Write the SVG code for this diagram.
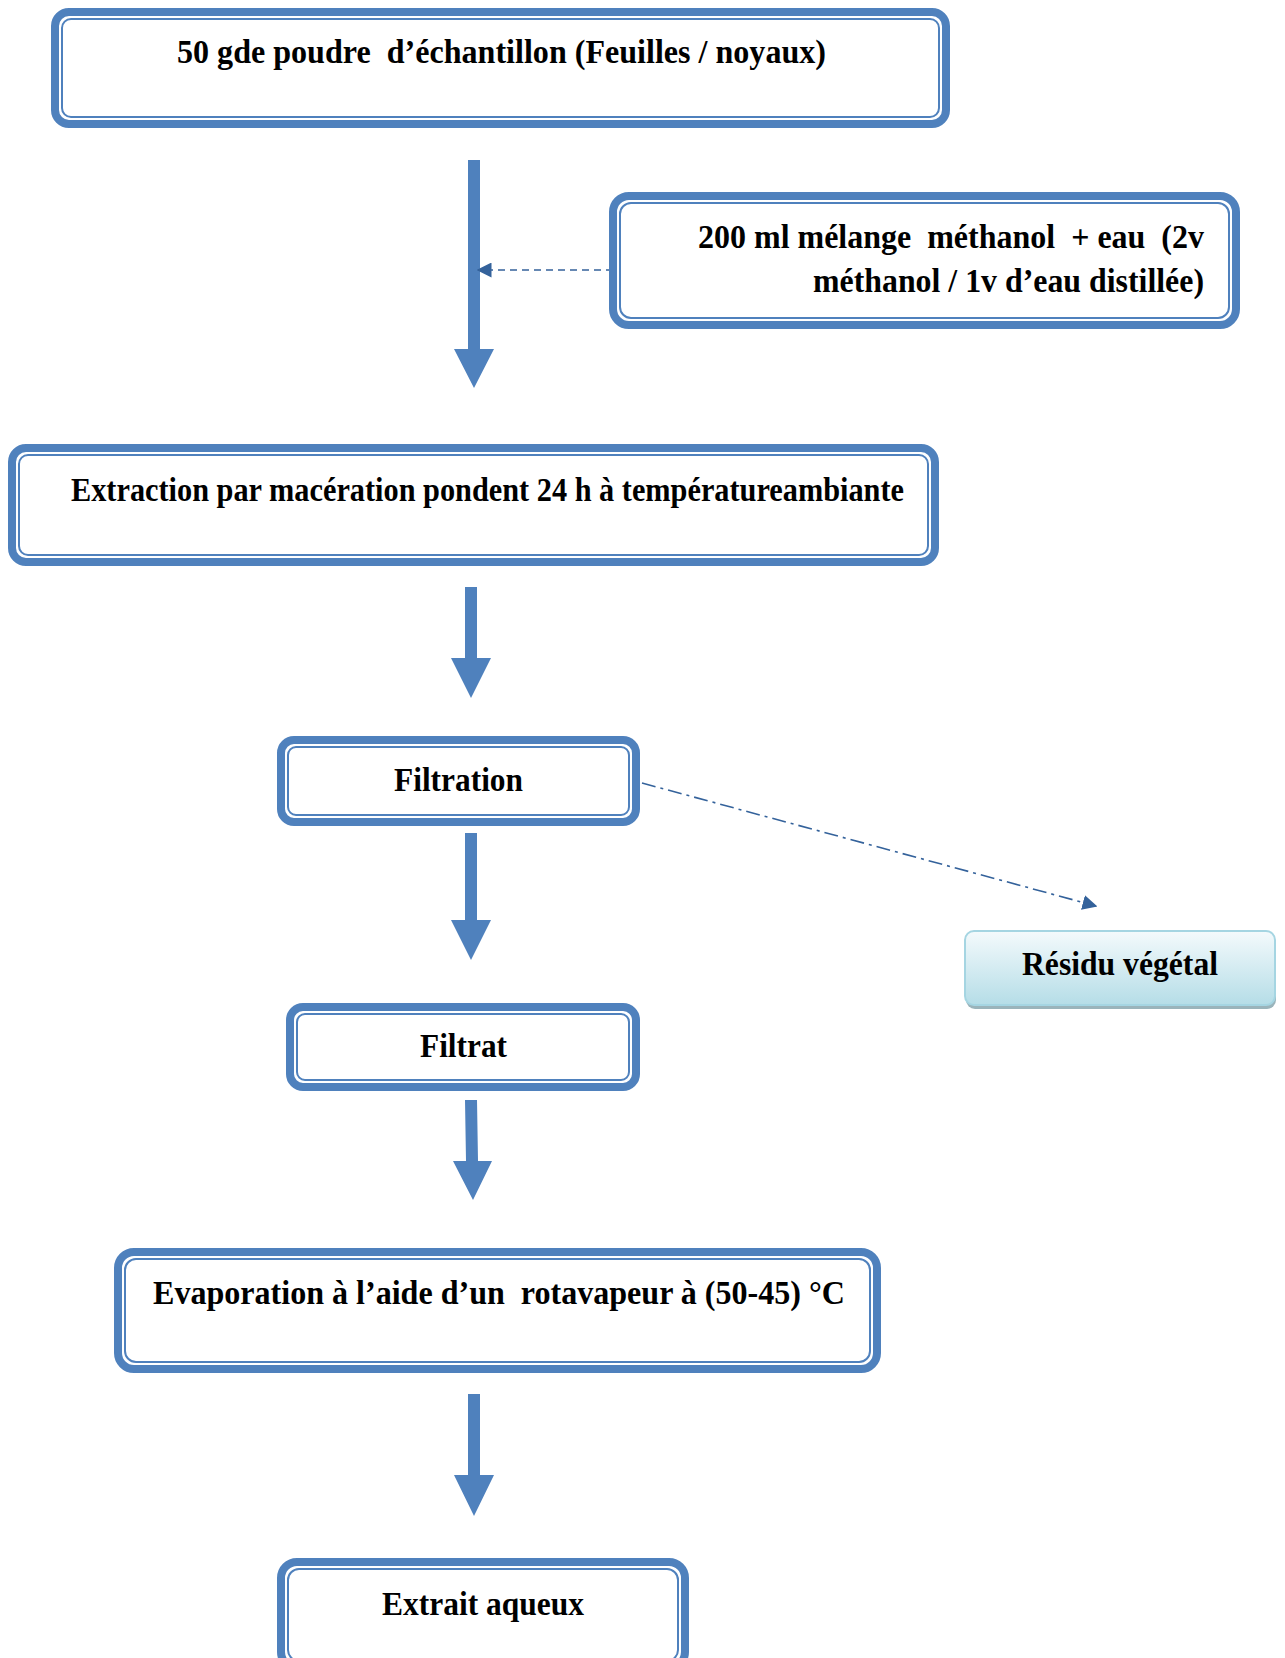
<svg xmlns="http://www.w3.org/2000/svg" width="1285" height="1658" viewBox="0 0 1285 1658">
<defs>
<style>
.ob{fill:#fff;stroke:#4F81BD;stroke-width:8}
.ib{fill:none;stroke:#4F81BD;stroke-width:2}
.t{font-family:"Liberation Serif","Times New Roman",serif;font-weight:bold;font-size:34px;fill:#000;white-space:pre}
.blk{fill:#4F81BD}
.dash{fill:none;stroke:#34629B;stroke-width:1.6}
</style>
<linearGradient id="rg" x1="0" y1="0" x2="0" y2="1">
<stop offset="0" stop-color="#f4fafc"/>
<stop offset="1" stop-color="#b5dde7"/>
</linearGradient>
<marker id="ah2" viewBox="0 0 10 10" refX="9" refY="5" markerWidth="15" markerHeight="15" markerUnits="userSpaceOnUse" orient="auto">
<path d="M0,0 L10,5 L0,10 z" fill="#34629B"/>
</marker>
</defs>

<g id="connectors">
<polygon class="blk" points="468,160 480,160 480,349 494,349 474,388 454,349 468,349"/>
<polygon class="blk" points="465,587 477,587 477,658 491,658 471,698 451,658 465,658"/>
<polygon class="blk" points="465,833 477,833 477,920 491,920 471,960 451,920 465,920"/>
<polygon class="blk" points="465,1100 477,1100 478,1161 492,1161 473,1200 453,1161 466,1161"/>
<polygon class="blk" points="468,1394 480,1394 480,1475 494,1475 474,1516 454,1475 468,1475"/>
<line class="dash" x1="613" y1="270" x2="478" y2="270" stroke-dasharray="7,5" marker-end="url(#ah2)"/>
<line class="dash" x1="642" y1="783" x2="1096" y2="906" stroke-dasharray="14,5,3,5" marker-end="url(#ah2)"/>
</g>

<g id="n1">
<rect class="ob" x="55" y="12" width="891" height="112" rx="14"/>
<rect class="ib" x="62" y="19" width="877" height="98" rx="9"/>
<text class="t" x="177" y="63" textLength="649" lengthAdjust="spacingAndGlyphs">50 gde poudre  d’échantillon (Feuilles / noyaux)</text>
</g>

<g id="n2">
<rect class="ob" x="613" y="196" width="623" height="129" rx="16"/>
<rect class="ib" x="620" y="203" width="609" height="115" rx="11"/>
<text class="t" x="698" y="248" textLength="506" lengthAdjust="spacingAndGlyphs">200 ml mélange  méthanol  + eau  (2v</text>
<text class="t" x="813" y="292" textLength="391" lengthAdjust="spacingAndGlyphs">méthanol / 1v d’eau distillée)</text>
</g>

<g id="n3">
<rect class="ob" x="12" y="448" width="923" height="114" rx="14"/>
<rect class="ib" x="19" y="455" width="909" height="100" rx="9"/>
<text class="t" x="71" y="501" textLength="833" lengthAdjust="spacingAndGlyphs">Extraction par macération pondent 24 h à températureambiante</text>
</g>

<g id="n4">
<rect class="ob" x="281" y="740" width="355" height="82" rx="13"/>
<rect class="ib" x="288" y="747" width="341" height="68" rx="8"/>
<text class="t" x="394" y="791" textLength="129" lengthAdjust="spacingAndGlyphs">Filtration</text>
</g>

<g id="n5">
<rect x="966" y="936" width="310" height="73" rx="9" fill="#9ab4bb"/>
<rect x="965" y="931" width="310" height="74" rx="9" fill="url(#rg)" stroke="#a5d5e2" stroke-width="2"/>
<text class="t" x="1022" y="975" textLength="196" lengthAdjust="spacingAndGlyphs">Résidu végétal</text>
</g>

<g id="n6">
<rect class="ob" x="290" y="1007" width="346" height="80" rx="13"/>
<rect class="ib" x="297" y="1014" width="332" height="66" rx="8"/>
<text class="t" x="420" y="1057" textLength="87" lengthAdjust="spacingAndGlyphs">Filtrat</text>
</g>

<g id="n7">
<rect class="ob" x="118" y="1252" width="759" height="117" rx="16"/>
<rect class="ib" x="125" y="1259" width="745" height="103" rx="11"/>
<text class="t" x="153" y="1304" textLength="692" lengthAdjust="spacingAndGlyphs">Evaporation à l’aide d’un  rotavapeur à (50-45) °C</text>
</g>

<g id="n8">
<rect class="ob" x="281" y="1562" width="404" height="106" rx="16"/>
<rect class="ib" x="288" y="1569" width="390" height="92" rx="11"/>
<text class="t" x="382" y="1615" textLength="202" lengthAdjust="spacingAndGlyphs">Extrait aqueux</text>
</g>
</svg>
